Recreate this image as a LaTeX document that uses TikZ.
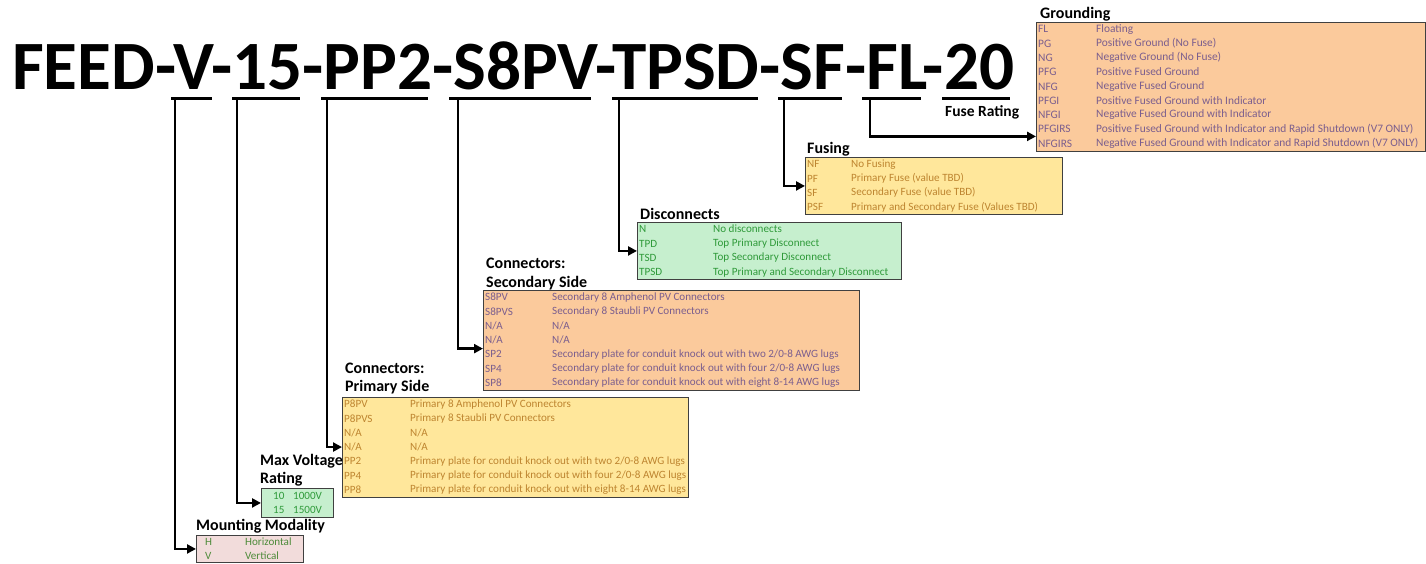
\documentclass[tikz,border=0pt]{standalone}
\usepackage{fontspec}
\setmainfont{Carlito}
\usetikzlibrary{calc,arrows.meta}
\definecolor{orgfill}{HTML}{FBCA9C}
\definecolor{yelfill}{HTML}{FFE79B}
\definecolor{grnfill}{HTML}{C6EFCE}
\definecolor{pnkfill}{HTML}{F2DCDB}
\definecolor{purtxt}{HTML}{7B5E8E}
\definecolor{brntxt}{HTML}{BE8530}
\definecolor{grntxt}{HTML}{2F9A3A}
\definecolor{mgrntxt}{HTML}{4E8B3A}
\newcommand\rh{14.3}
\begin{document}
\begin{tikzpicture}[x=1pt,y=-1pt,
  tbox/.style={draw=black!75, line width=0.9pt, anchor=north west, inner sep=0pt},
  rowt/.style={anchor=west, inner sep=0pt, font=\fontsize{11.1}{12}\selectfont},
  growt/.style={anchor=west, inner sep=0pt, font=\fontsize{11.4}{12}\selectfont},
  hdr/.style={anchor=base west, inner sep=0pt, font=\bfseries\fontsize{16}{18}\selectfont},
  uline/.style={line width=3pt},
  conn/.style={line width=2.4pt, -{Triangle[length=9pt,width=9pt]}}]
\useasboundingbox (0,0) rectangle (1426,564);
\fill[white] (0,0) rectangle (1426,564);

% title
\node[anchor=base west, inner sep=0pt, text depth=0pt, font=\bfseries\fontsize{69.2}{72}\selectfont] (title) at (12,90) {FEED-V-15-PP2-S8PV-TPSD-SF-FL-20};

% underlines
\foreach \n/\a/\b in {uV/171/212, u15/232/300, uPP2/321/428, uS8PV/449/591, uTPSD/612/758, uSF/778/842, uFL/862/921, u20/942/1010}{
  \coordinate (\n a) at (\a,99);
  \coordinate (\n b) at (\b,99);
  \draw[uline] (\n a) -- (\n b);
}
\coordinate (dV) at (175,99);
\coordinate (d15) at (237,99);
\coordinate (dPP2) at (327,99);
\coordinate (dS8PV) at (458,99);
\coordinate (dTPSD) at (619,99);
\coordinate (dSF) at (784,99);
\coordinate (dFL) at (870,99);

\node[hdr, font=\bfseries\fontsize{15.5}{18}\selectfont] (fuserating) at (945,116.5) {Fuse Rating};

% Grounding
\node[hdr] (ghdr) at (1040,19) {Grounding};
\node[tbox, fill=orgfill, minimum width=389, minimum height=129] (gbox) at (1036,22) {};
\begin{scope}[every node/.style={growt, text=purtxt}]
\foreach \i/\c/\d in {1/FL/Floating, 2/PG/Positive Ground (No Fuse), 3/NG/Negative Ground (No Fuse), 4/PFG/Positive Fused Ground, 5/NFG/Negative Fused Ground, 6/PFGI/Positive Fused Ground with Indicator, 7/NFGI/Negative Fused Ground with Indicator, 8/PFGIRS/Positive Fused Ground with Indicator and Rapid Shutdown (V7 ONLY), 9/NFGIRS/Negative Fused Ground with Indicator and Rapid Shutdown (V7 ONLY)}{
  \node (gc\i) at (1038,{22+(\i-0.5)*\rh}) {\c};
  \node (gd\i) at (1096,{22+(\i-0.5)*\rh}) {\d};
}
\end{scope}

% Fusing
\node[hdr] (fhdr) at (807,154) {Fusing};
\node[tbox, fill=yelfill, minimum width=257, minimum height=57] (fbox) at (805,157) {};
\begin{scope}[every node/.style={rowt, text=brntxt}]
\foreach \i/\c/\d in {1/NF/No Fusing, 2/PF/Primary Fuse (value TBD), 3/SF/Secondary Fuse (value TBD), 4/PSF/Primary and Secondary Fuse (Values TBD)}{
  \node (fc\i) at (807,{157+(\i-0.5)*\rh}) {\c};
  \node (fd\i) at (851,{157+(\i-0.5)*\rh}) {\d};
}
\end{scope}

% Disconnects
\node[hdr] (dhdr) at (640,219) {Disconnects};
\node[tbox, fill=grnfill, minimum width=264, minimum height=57] (dbox) at (637,222) {};
\begin{scope}[every node/.style={rowt, text=grntxt}]
\foreach \i/\c/\d in {1/N/No disconnects, 2/TPD/Top Primary Disconnect, 3/TSD/Top Secondary Disconnect, 4/TPSD/Top Primary and Secondary Disconnect}{
  \node (dc\i) at (639,{222+(\i-0.5)*\rh}) {\c};
  \node (dd\i) at (713,{222+(\i-0.5)*\rh}) {\d};
}
\end{scope}

% Connectors: Secondary Side
\node[hdr] (shdr1) at (486,268) {Connectors:};
\node[hdr] (shdr2) at (486,287) {Secondary Side};
\node[tbox, fill=orgfill, minimum width=376, minimum height=100] (sbox) at (483,290) {};
\begin{scope}[every node/.style={rowt, text=purtxt}]
\node (sc1) at (485,{290+0.5*\rh}) {S8PV};
\node (sd1) at (552,{290+0.5*\rh}) {Secondary 8 Amphenol PV Connectors};
\node (sc2) at (485,{290+1.5*\rh}) {S8PVS};
\node (sd2) at (552,{290+1.5*\rh}) {Secondary 8 Staubli PV Connectors};
\node (sc3) at (485,{290+2.5*\rh}) {N/A};
\node (sd3) at (552,{290+2.5*\rh}) {N/A};
\node (sc4) at (485,{290+3.5*\rh}) {N/A};
\node (sd4) at (552,{290+3.5*\rh}) {N/A};
\node (sc5) at (485,{290+4.5*\rh}) {SP2};
\node (sd5) at (552,{290+4.5*\rh}) {Secondary plate for conduit knock out with two 2/0-8 AWG lugs};
\node (sc6) at (485,{290+5.5*\rh}) {SP4};
\node (sd6) at (552,{290+5.5*\rh}) {Secondary plate for conduit knock out with four 2/0-8 AWG lugs};
\node (sc7) at (485,{290+6.5*\rh}) {SP8};
\node (sd7) at (552,{290+6.5*\rh}) {Secondary plate for conduit knock out with eight 8-14 AWG lugs};
\end{scope}

% Connectors: Primary Side
\node[hdr] (phdr1) at (345,373) {Connectors:};
\node[hdr] (phdr2) at (345,391) {Primary Side};
\node[tbox, fill=yelfill, minimum width=346, minimum height=100] (pbox) at (342,397) {};
\begin{scope}[every node/.style={rowt, text=brntxt}]
\node (pc1) at (344,{397+0.5*\rh}) {P8PV};
\node (pd1) at (410,{397+0.5*\rh}) {Primary 8 Amphenol PV Connectors};
\node (pc2) at (344,{397+1.5*\rh}) {P8PVS};
\node (pd2) at (410,{397+1.5*\rh}) {Primary 8 Staubli PV Connectors};
\node (pc3) at (344,{397+2.5*\rh}) {N/A};
\node (pd3) at (410,{397+2.5*\rh}) {N/A};
\node (pc4) at (344,{397+3.5*\rh}) {N/A};
\node (pd4) at (410,{397+3.5*\rh}) {N/A};
\node (pc5) at (344,{397+4.5*\rh}) {PP2};
\node (pd5) at (410,{397+4.5*\rh}) {Primary plate for conduit knock out with two 2/0-8 AWG lugs};
\node (pc6) at (344,{397+5.5*\rh}) {PP4};
\node (pd6) at (410,{397+5.5*\rh}) {Primary plate for conduit knock out with four 2/0-8 AWG lugs};
\node (pc7) at (344,{397+6.5*\rh}) {PP8};
\node (pd7) at (410,{397+6.5*\rh}) {Primary plate for conduit knock out with eight 8-14 AWG lugs};
\end{scope}

% Max Voltage Rating
\node[hdr] (vhdr1) at (260,465) {Max Voltage};
\node[hdr] (vhdr2) at (260,483) {Rating};
\node[tbox, fill=grnfill, minimum width=72, minimum height=29] (vbox) at (261,488) {};
\begin{scope}[every node/.style={rowt, text=grntxt}]
\node (vc1) at (273,495.5) {10};
\node (vd1) at (293,495.5) {1000V};
\node (vc2) at (273,510) {15};
\node (vd2) at (293,510) {1500V};
\end{scope}

% Mounting Modality
\node[hdr] (mhdr) at (196,530) {Mounting Modality};
\node[tbox, fill=pnkfill, minimum width=107, minimum height=27] (mbox) at (196,535) {};
\begin{scope}[every node/.style={rowt, text=mgrntxt}]
\node (mc1) at (205,542) {H};
\node (md1) at (245,542) {Horizontal};
\node (mc2) at (205,556) {V};
\node (md2) at (245,556) {Vertical};
\end{scope}

% connectors
\draw[conn] (dV) |- (mbox.west);
\draw[conn] (d15) |- (vbox.west);
\draw[conn] (dPP2) |- (pbox.west |- pc4);
\draw[conn] (dS8PV) |- ($(sbox.west |- sc4)!0.6!(sbox.west |- sc5)$);
\draw[conn] (dTPSD) |- (dbox.west);
\draw[conn] (dSF) |- (fbox.west);
\draw[conn] (dFL) |- ($(gbox.west |- gc8)!0.5!(gbox.west |- gc9)$);
\end{tikzpicture}
\end{document}
